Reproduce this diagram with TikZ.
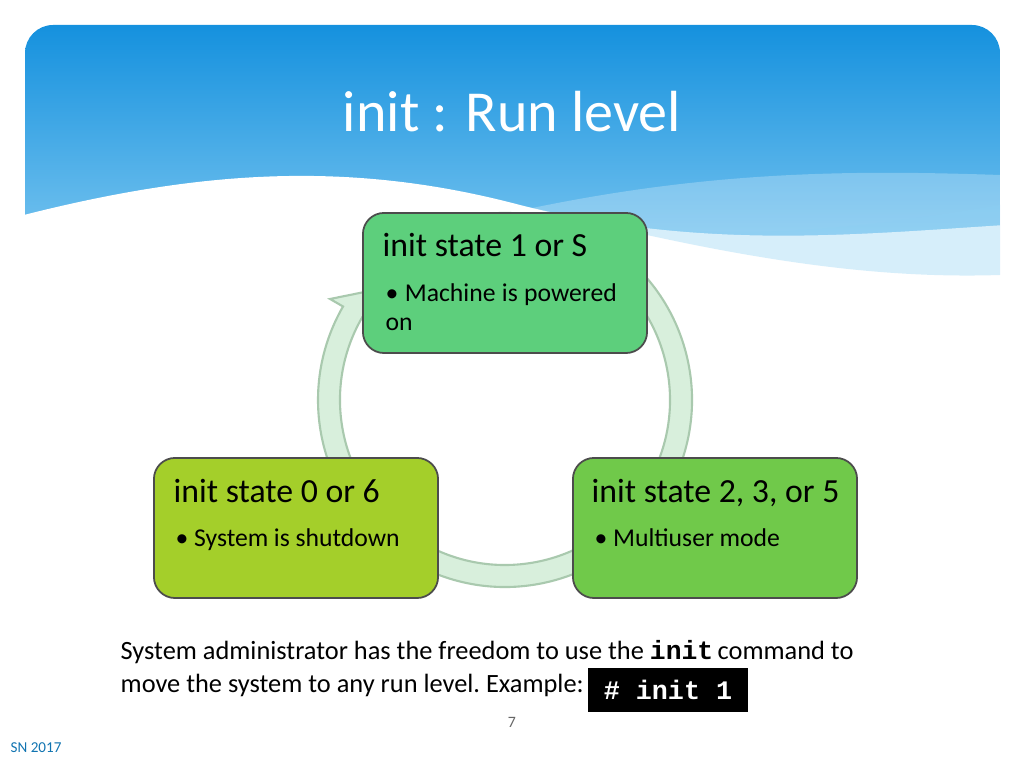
\documentclass[tikz,border=0pt]{standalone}
\usepackage{fontspec}
\setmainfont{Carlito}
\newfontfamily\monof{Liberation Mono}
\usetikzlibrary{calc}
\definecolor{ringfill}{HTML}{D8EFDC}
\definecolor{ringdraw}{HTML}{A9C9AE}
\definecolor{boxA}{HTML}{5DCF7C}
\definecolor{boxB}{HTML}{A4CF2A}
\definecolor{boxC}{HTML}{70C94A}
\definecolor{hdrtop}{HTML}{1591DE}
\definecolor{hdrbot}{HTML}{8CCFF3}
\newcommand{\tightsp}{\spaceskip=0.22em plus 0.1em\relax}
\begin{document}
\begin{tikzpicture}[x=0.01cm,y=-0.01cm,
  box/.style={draw=black!70,line width=0.5pt,rounded corners=6pt,minimum width=2.84cm,minimum height=1.4cm},
  btitle/.style={anchor=north west,font=\fontsize{9.6}{12}\selectfont,inner sep=0pt},
  bitem/.style={anchor=north west,font=\fontsize{7.3}{8.2}\selectfont,inner sep=0pt,text width=2.45cm,align=left},
  body/.style={anchor=west,font=\fontsize{7.5}{9}\selectfont\frenchspacing,inner sep=0pt}]
\useasboundingbox (0,0) rectangle (1024,768);
\fill[white] (0,0) rectangle (1024,768);
% header
\begin{scope}
\clip[rounded corners=8pt] (25,25) rectangle (1000,320);
\shade[top color=hdrtop,bottom color=hdrbot] (25,25) rectangle (1000,300);
\fill[white,opacity=0.25] (500,215) .. controls (700,170) and (850,170) .. (1000,175) -- (1000,280) .. controls (850,250) and (700,240) .. (500,215) -- cycle;
\end{scope}
\fill[white] (20,216) .. controls (200,170) and (350,160) .. (520,205) .. controls (700,250) and (850,235) .. (1005,225) -- (1005,340) -- (20,340) -- cycle;
\fill[hdrbot,opacity=0.35] (520,205) .. controls (700,250) and (850,230) .. (1000,205) -- (1000,275) .. controls (850,280) and (700,250) .. (520,205) -- cycle;
\node[text=white,font=\fontsize{16.5}{20}\selectfont,inner sep=0pt] (title) at (512,112) {init : Run level};
% ring
\coordinate (c) at (505,400);
\filldraw[fill=ringfill,draw=ringdraw,line width=0.6pt]
  ($(c)+(-105:187)$) arc[start angle=-105,end angle=210,radius=187]
  -- ($(c)+(210:202)$) -- ($(c)+(218:176)$) -- ($(c)+(210:150)$)
  -- ($(c)+(210:165)$) arc[start angle=210,end angle=-105,radius=165] -- cycle;
% boxes
\node[box,fill=boxA] (b1) at (505,283) {};
\node[box,fill=boxB] (b2) at (296,528) {};
\node[box,fill=boxC] (b3) at (715,528) {};
\node[btitle] (t1) at (382,233) {init state 1 or S};
\node[bitem] (i1) at (385,283) {\tightsp\hangindent=1.7ex\hangafter=1\relax \textbullet\ Machine is powered on};
\node[bitem] (i2) at (175,528) {\tightsp\textbullet\ System is shutdown};
\node[btitle] (t2) at (173,479) {init state 0 or 6};
\node[btitle] (t3) at (591,479) {init state 2, 3, or 5};
\node[bitem] (i3) at (594,528) {\tightsp\textbullet\ Multiuser mode};
% bottom text
\node[body] (l1) at (120,652) {System administrator has the freedom to use the \textbf{\monof init}\,command to};
\node[body] (l2) at (120,685) {move the system to any run level. Example:};
\node[fill=black,text=white,font=\fontsize{7.6}{9}\monof\bfseries,minimum width=1.59cm,minimum height=0.44cm,inner sep=0pt] (cmd) at (668,690) {\# init 1};
\node[text=black!60,font=\fontsize{4.5}{5}\selectfont,inner sep=0pt] (pg) at (512,722) {7};
\node[text=hdrtop!80!black,font=\fontsize{4.3}{5}\selectfont,anchor=west,inner sep=0pt] (sn) at (10,748) {SN 2017};
\end{tikzpicture}
\end{document}
